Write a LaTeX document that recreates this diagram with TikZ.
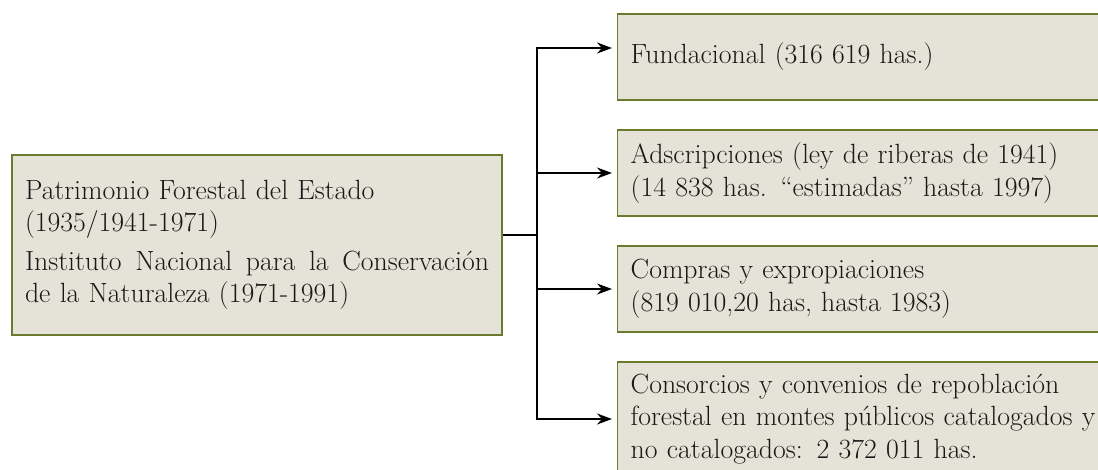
\documentclass[tikz,border=0pt]{standalone}
\usepackage{fontspec}
\usetikzlibrary{arrows.meta}
\usepackage{xcolor}
\definecolor{boxfill}{RGB}{229,227,215}
\definecolor{boxline}{RGB}{108,122,48}
\definecolor{txt}{RGB}{25,25,25}
\begin{document}
\begin{tikzpicture}[x=1pt,y=-1pt,
 box/.style={draw=boxline, fill=boxfill, line width=1.4pt, rectangle, inner xsep=13pt, inner ysep=0pt, text=txt, font=\fontsize{27.8pt}{32.5pt}\selectfont},
 leaf/.style={box, anchor=west, text width=470pt, align=left, minimum height=86pt},
 >={Stealth[length=15pt,width=11pt]}]
\useasboundingbox (0,0) rectangle (1098,469);
\clip (0,0) rectangle (1098,469);
\node[box, text width=464pt, align=left, minimum height=180pt] (pfe) at (257,245) {Patrimonio Forestal del Estado\\(1935/1941-1971)\par\vspace{6pt}\makebox[464pt]{Instituto\hfill Nacional\hfill para\hfill la\hfill Conservación}\\de la Naturaleza (1971-1991)};
\node[leaf] (fund) at (617,57) {Fundacional (316 619 has.)};
\node[leaf] (ads) at (617,173) {Adscripciones (ley de riberas de 1941)\\(14 838 has. “estimadas” hasta 1997)};
\node[leaf] (comp) at (617,289) {Compras y expropiaciones\\(819 010,20 has, hasta 1983)};
\node[leaf, minimum height=114pt] (cons) at (617,419) {Consorcios y convenios de repoblación\\forestal en montes públicos catalogados y\\no catalogados: 2 372 011 has.};
\coordinate (split) at (537,235);
\draw[line width=1.4pt] ([yshift=10pt]pfe.east) -- (split);
\foreach \n/\s in {fund/9,ads/0,comp/0,cons/0}
 \draw[->, line width=1.4pt, shorten >=5pt] (split) |- ([yshift=\s pt]\n.west);
\end{tikzpicture}
\end{document}
